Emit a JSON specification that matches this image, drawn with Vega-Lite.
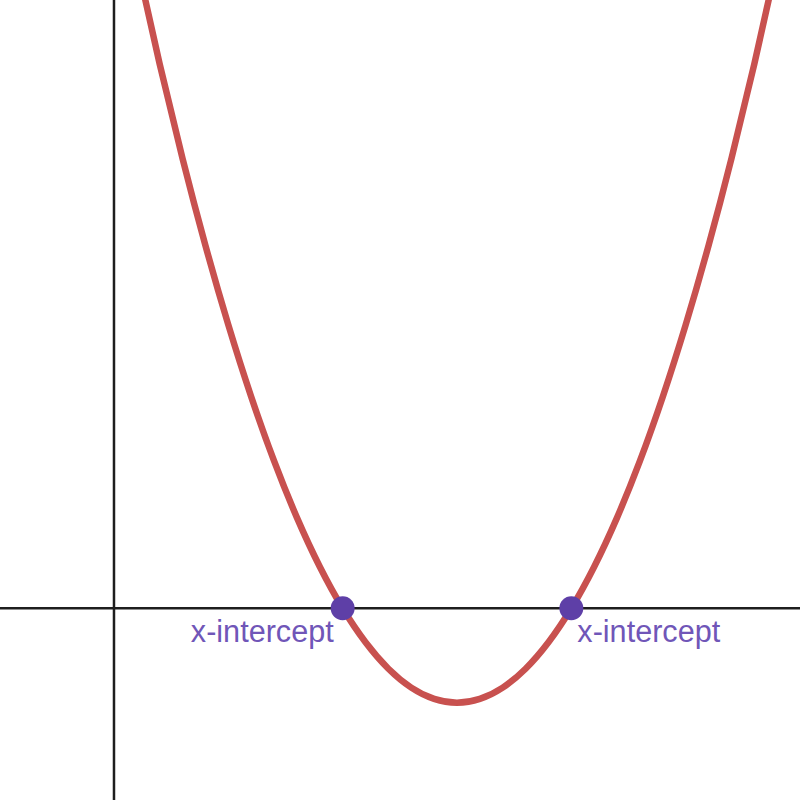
{
  "$schema": "https://vega.github.io/schema/vega-lite/v6.json",
  "width": 800,
  "height": 800,
  "autosize": {"type": "fit", "contains": "padding"},
  "padding": 0,
  "background": "white",
  "config": {"view": {"stroke": null}},
  "datasets": {
    "curve": [
      {"x": 0.0, "y": 8.0}, {"x": 0.2, "y": 6.84}, {"x": 0.4, "y": 5.76}, {"x": 0.6, "y": 4.76},
      {"x": 0.8, "y": 3.84}, {"x": 1.0, "y": 3.0}, {"x": 1.2, "y": 2.24}, {"x": 1.4, "y": 1.56},
      {"x": 1.6, "y": 0.96}, {"x": 1.8, "y": 0.44}, {"x": 2.0, "y": 0.0}, {"x": 2.2, "y": -0.36},
      {"x": 2.4, "y": -0.64}, {"x": 2.6, "y": -0.84}, {"x": 2.8, "y": -0.96}, {"x": 3.0, "y": -1.0},
      {"x": 3.2, "y": -0.96}, {"x": 3.4, "y": -0.84}, {"x": 3.6, "y": -0.64}, {"x": 3.8, "y": -0.36},
      {"x": 4.0, "y": 0.0}, {"x": 4.2, "y": 0.44}, {"x": 4.4, "y": 0.96}, {"x": 4.6, "y": 1.56},
      {"x": 4.8, "y": 2.24}, {"x": 5.0, "y": 3.0}, {"x": 5.2, "y": 3.84}, {"x": 5.4, "y": 4.76},
      {"x": 5.6, "y": 5.76}, {"x": 5.8, "y": 6.84}, {"x": 6.0, "y": 8.0}
    ],
    "points": [
      {"x": 2, "y": 0, "label": "x-intercept", "side": "left"},
      {"x": 4, "y": 0, "label": "x-intercept", "side": "right"}
    ],
    "xaxis": [{"x": -1, "y": 0}, {"x": 6, "y": 0}],
    "yaxis": [{"x": 0, "y": -2.03}, {"x": 0, "y": 6.45}]
  },
  "encoding": {
    "x": {"field": "x", "type": "quantitative", "axis": null,
          "scale": {"domain": [-0.997, 6.0], "nice": false, "zero": false}},
    "y": {"field": "y", "type": "quantitative", "axis": null,
          "scale": {"domain": [-2.03, 6.44], "nice": false, "zero": false}}
  },
  "layer": [
    {"data": {"name": "xaxis"}, "mark": {"type": "line", "color": "#1e1e1e", "strokeWidth": 2.5, "clip": true}},
    {"data": {"name": "yaxis"}, "mark": {"type": "line", "color": "#1e1e1e", "strokeWidth": 2.5, "clip": true}},
    {"data": {"name": "curve"}, "mark": {"type": "line", "color": "#c8514f", "strokeWidth": 6.5, "interpolate": "natural", "clip": true}},
    {"data": {"name": "points"}, "mark": {"type": "point", "filled": true, "opacity": 1, "color": "#5e3fa7", "size": 570}},
    {"data": {"name": "points"}, "transform": [{"filter": "datum.side === 'left'"}],
     "mark": {"type": "text", "align": "right", "baseline": "alphabetic", "dx": -9, "dy": 34, "font": "Liberation Sans", "fontSize": 30.6, "color": "#7056b8"},
     "encoding": {"text": {"field": "label"}}},
    {"data": {"name": "points"}, "transform": [{"filter": "datum.side === 'right'"}],
     "mark": {"type": "text", "align": "left", "baseline": "alphabetic", "dx": 6, "dy": 34, "font": "Liberation Sans", "fontSize": 30.6, "color": "#7056b8"},
     "encoding": {"text": {"field": "label"}}}
  ]
}
